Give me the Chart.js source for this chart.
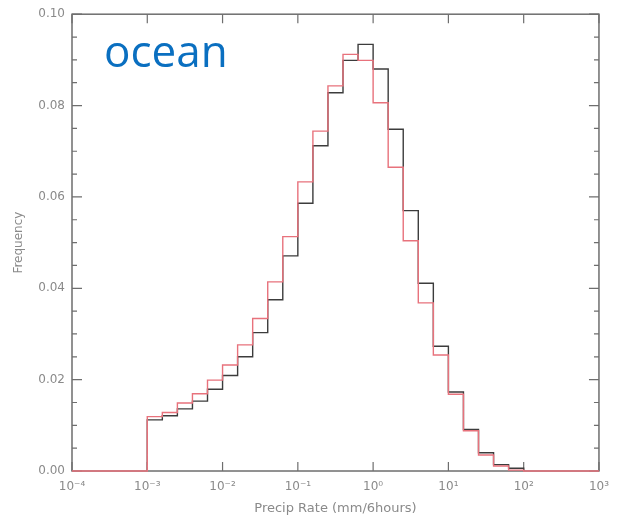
<!DOCTYPE html>
<html lang="en">
<head>
  <meta charset="UTF-8" />
  <title>Precip rate histogram - ocean</title>
  <style>
    body { margin: 0; background: #ffffff; }
    #wrap { position: relative; width: 618px; height: 518px; }
    #histChart { display: block; }
    #tag {
      position: absolute;
      left: 104px;
      top: 28px;
      font-family: "Open Sans", sans-serif;
      font-size: 44px;
      line-height: 1;
      color: #0a6fc0;
    }
  </style>
</head>
<body>
  <div id="wrap">
    <canvas id="histChart" width="618" height="518"></canvas>
    <div id="tag">ocean</div>
  </div>

  <script src="https://cdn.jsdelivr.net/npm/chart.js"></script>
  <script>
    // bin edges as powers of ten (mm/6hours)
    const binEdges = [-3, -2.8, -2.6, -2.4, -2.2, -2, -1.8, -1.6, -1.4, -1.2, -1, -0.8, -0.6,
                      -0.4, -0.2, 0, 0.2, 0.4, 0.6, 0.8, 1, 1.2, 1.4, 1.6, 1.8, 2];

    // frequency per bin
    const redFreq = [0.0119, 0.0128, 0.0149, 0.0169, 0.0199, 0.0232, 0.0276, 0.0334, 0.0414,
                     0.0513, 0.0633, 0.0744, 0.0843, 0.0912, 0.0899, 0.0806, 0.0665, 0.0504,
                     0.0368, 0.0254, 0.0168, 0.0088, 0.0035, 0.0011, 0.0002];
    const blackFreq = [0.0112, 0.0121, 0.0136, 0.0153, 0.0179, 0.0209, 0.0250, 0.0303, 0.0375,
                       0.0471, 0.0586, 0.0712, 0.0828, 0.0899, 0.0934, 0.0880, 0.0748, 0.0570,
                       0.0411, 0.0273, 0.0173, 0.0091, 0.0040, 0.0014, 0.0006];

    const xTickExps = [-4, -3, -2, -1, 0, 1, 2, 3];
    const xTickLabels = ['10\u207B\u2074', '10\u207B\u00B3', '10\u207B\u00B2', '10\u207B\u00B9',
                         '10\u2070', '10\u00B9', '10\u00B2', '10\u00B3'];
    const yTicks = [0, 0.02, 0.04, 0.06, 0.08, 0.10];

    // one point per bin left edge, stepped lines finish each bin
    function stepPoints(freq, padOut) {
      const pts = [];
      if (padOut) pts.push({ x: Math.pow(10, xTickExps[0]), y: 0 });
      else pts.push({ x: Math.pow(10, binEdges[0]), y: 0 });
      freq.forEach((v, i) => pts.push({ x: Math.pow(10, binEdges[i]), y: v }));
      pts.push({ x: Math.pow(10, binEdges[binEdges.length - 1]), y: 0 });
      if (padOut) pts.push({ x: Math.pow(10, xTickExps[xTickExps.length - 1]), y: 0 });
      return pts;
    }

    const axisGray = '#6e6e6e';
    const labelGray = '#8a8a8a';

    // box around the plot + inward ticks, like the IDL plot
    const frameTicks = {
      id: 'frameTicks',
      beforeDatasetsDraw(chart) {
        const { ctx, chartArea: a, scales: { x, y } } = chart;
        ctx.save();
        ctx.strokeStyle = axisGray;
        ctx.lineWidth = 1.5;
        ctx.strokeRect(a.left, a.top, a.right - a.left, a.bottom - a.top);
        ctx.lineWidth = 1.2;
        ctx.beginPath();
        xTickExps.forEach(e => {
          const px = x.getPixelForValue(Math.pow(10, e));
          ctx.moveTo(px, a.bottom); ctx.lineTo(px, a.bottom - 9);
          ctx.moveTo(px, a.top); ctx.lineTo(px, a.top + 9);
        });
        for (let k = 0; k <= 20; k++) {
          const v = k * 0.005;
          const py = y.getPixelForValue(v);
          const len = (k % 4 === 0) ? 10 : 5;
          ctx.moveTo(a.left, py); ctx.lineTo(a.left + len, py);
          ctx.moveTo(a.right, py); ctx.lineTo(a.right - len, py);
        }
        ctx.stroke();
        ctx.restore();
      }
    };

    const ctx = document.getElementById('histChart').getContext('2d');
    const chart = new Chart(ctx, {
      type: 'line',
      data: {
        datasets: [
          {
            label: 'red',
            data: stepPoints(redFreq, true),
            borderColor: '#e8727c',
            borderWidth: 1.4,
            stepped: 'before',
            pointRadius: 0,
            fill: false,
            clip: false
          },
          {
            label: 'black',
            data: stepPoints(blackFreq, false),
            borderColor: '#3c3c3c',
            borderWidth: 1.4,
            stepped: 'before',
            pointRadius: 0,
            fill: false,
            clip: false
          }
        ]
      },
      options: {
        responsive: false,
        animation: false,
        layout: { padding: { top: 6, right: 15, left: 0, bottom: 0 } },
        plugins: { legend: { display: false }, tooltip: { enabled: false } },
        scales: {
          x: {
            type: 'logarithmic',
            min: Math.pow(10, xTickExps[0]),
            max: Math.pow(10, xTickExps[xTickExps.length - 1]),
            border: { display: false },
            grid: { display: false, drawTicks: false },
            afterBuildTicks: s => { s.ticks = xTickExps.map(e => ({ value: Math.pow(10, e) })); },
            afterFit: s => { s.height = 47; },
            ticks: {
              autoSkip: false,
              maxRotation: 0,
              padding: 9,
              color: labelGray,
              font: { family: 'DejaVu Sans', size: 12 },
              callback: (v, i) => xTickLabels[i]
            },
            title: {
              display: true,
              text: 'Precip Rate (mm/6hours)',
              color: labelGray,
              font: { family: 'DejaVu Sans', size: 13 },
              padding: { top: 0, bottom: 2 }
            }
          },
          y: {
            min: 0,
            max: 0.1,
            border: { display: false },
            grid: { display: false, drawTicks: false },
            afterBuildTicks: s => { s.ticks = yTicks.map(v => ({ value: v })); },
            afterFit: s => { s.width = 72; },
            ticks: {
              padding: 7,
              color: labelGray,
              font: { family: 'DejaVu Sans', size: 12 },
              callback: v => v.toFixed(2)
            },
            title: {
              display: true,
              text: 'Frequency',
              color: labelGray,
              font: { family: 'DejaVu Sans', size: 12 },
              padding: { top: 12, bottom: 0 }
            }
          }
        }
      },
      plugins: [frameTicks]
    });
  </script>
</body>
</html>
